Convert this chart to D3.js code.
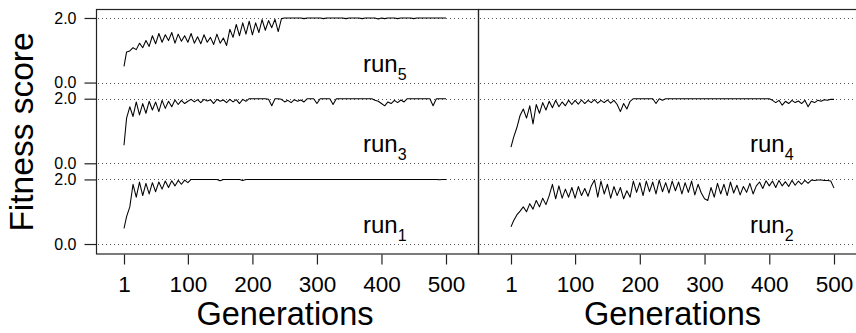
<!DOCTYPE html>
<html><head><meta charset="utf-8">
<script src="https://cdn.jsdelivr.net/npm/d3@7"></script>
<style>
body{margin:0;background:#fff}
svg{display:block}
text{font-family:"Liberation Sans",Arial,Helvetica,sans-serif;fill:#000}
</style>
</head><body><svg id="c" width="856" height="333"></svg>
<script>
// Generations sampled (1, then every 5th)
const gens = [1].concat(d3.range(5, 501, 5));
const xTicks = [1, 100, 200, 300, 400, 500];
const yTicks = [0, 2];
const runNames = ["5", "3", "1", "4", "2"];

const run5 = [
 0.50,0.95,0.98,1.08,1.02,1.22,1.08,1.30,1.12,1.45,
 1.20,1.52,1.25,1.48,1.30,1.55,1.22,1.50,1.28,1.45,
 1.25,1.52,1.22,1.42,1.20,1.48,1.25,1.40,1.18,1.50,
 1.22,1.38,1.15,1.65,1.40,1.80,1.45,1.85,1.50,1.90,
 1.48,1.85,1.55,1.95,1.62,1.92,1.70,1.96,1.58,1.98,
 2.00,2.00,2.00,2.00,2.00,2.00,1.98,2.00,2.00,2.00,
 2.00,2.00,1.98,2.00,2.00,2.00,2.00,2.00,2.00,1.98,
 2.00,2.00,2.00,2.00,1.98,2.00,2.00,2.00,2.00,1.97,
 2.00,1.98,2.00,2.00,2.00,1.98,2.00,2.00,2.00,2.00,
 1.98,2.00,2.00,2.00,2.00,2.00,2.00,2.00,2.00,2.00,
 2.00];
const run3 = [
 0.56,1.40,1.75,1.45,1.90,1.50,1.85,1.55,1.92,1.65,
 1.90,1.60,1.95,1.70,1.92,1.75,1.96,1.82,1.95,1.85,
 1.92,1.98,1.90,1.97,1.88,1.98,1.93,1.97,1.85,1.98,
 1.92,1.96,1.88,1.98,1.90,1.97,1.85,1.98,1.92,2.00,
 2.00,2.00,2.00,2.00,2.00,1.98,1.78,2.00,2.00,1.98,
 1.90,1.95,1.88,1.97,1.92,1.96,1.90,2.00,2.00,2.00,
 1.85,2.00,2.00,2.00,2.00,1.82,2.00,2.00,2.00,2.00,
 2.00,2.00,2.00,2.00,2.00,2.00,2.00,2.00,1.95,1.92,
 1.85,1.78,1.90,1.85,1.95,1.88,1.96,1.90,2.00,2.00,
 2.00,2.00,2.00,2.00,2.00,2.00,1.78,2.00,2.00,2.00,
 2.00];
const run1 = [
 0.48,0.85,1.15,1.85,1.45,1.92,1.50,1.88,1.55,1.90,
 1.62,1.92,1.70,1.95,1.75,1.96,1.80,1.97,1.85,1.98,
 1.90,2.00,2.00,2.00,2.00,2.00,2.00,2.00,2.00,2.00,
 1.96,2.00,2.00,2.00,2.00,2.00,2.00,1.97,2.00,2.00,
 2.00,2.00,2.00,2.00,2.00,2.00,2.00,2.00,2.00,2.00,
 2.00,2.00,2.00,2.00,2.00,2.00,2.00,2.00,2.00,2.00,
 2.00,2.00,2.00,2.00,2.00,2.00,2.00,2.00,2.00,2.00,
 2.00,2.00,2.00,2.00,2.00,2.00,2.00,2.00,2.00,2.00,
 2.00,2.00,2.00,2.00,2.00,2.00,2.00,2.00,2.00,2.00,
 2.00,2.00,2.00,2.00,2.00,2.00,2.00,2.00,1.99,2.00,
 2.00];
const run4 = [
 0.50,0.80,1.10,1.48,1.68,1.40,1.78,1.22,1.82,1.55,
 1.88,1.65,1.92,1.72,1.95,1.75,1.90,1.78,1.95,1.82,
 1.95,1.83,1.96,1.85,1.95,1.88,1.97,1.86,1.95,1.88,
 1.96,1.86,1.95,1.82,1.60,1.85,1.68,1.92,2.00,2.00,
 2.00,2.00,2.00,2.00,2.00,1.85,2.00,1.95,2.00,2.00,
 2.00,2.00,2.00,2.00,2.00,2.00,2.00,2.00,2.00,2.00,
 2.00,2.00,2.00,2.00,2.00,2.00,2.00,2.00,2.00,2.00,
 2.00,2.00,2.00,2.00,2.00,2.00,2.00,2.00,2.00,2.00,
 2.00,1.95,1.88,1.95,1.80,1.92,1.85,1.95,1.88,1.93,
 1.85,1.95,1.75,1.92,1.88,1.95,1.92,1.97,1.95,1.98,
 1.98];
const run2 = [
 0.53,0.72,0.90,1.02,1.15,1.00,1.25,1.08,1.35,1.15,
 1.42,1.22,1.50,1.85,1.40,1.80,1.42,1.70,1.45,1.75,
 1.42,1.78,1.50,1.72,1.48,1.80,1.98,1.45,1.95,1.55,
 1.85,1.42,1.78,1.50,1.75,1.40,1.65,1.45,1.95,1.60,
 1.90,1.50,1.95,1.62,1.92,1.55,1.98,1.62,1.90,1.58,
 1.95,1.65,1.92,1.55,1.90,1.60,1.95,1.52,1.85,1.58,
 1.40,1.35,1.75,1.45,1.88,1.55,1.85,1.50,1.92,1.58,
 1.82,1.52,1.78,1.60,1.88,1.55,1.80,1.92,1.72,1.96,
 1.80,1.95,1.75,1.97,1.80,1.93,1.78,1.97,1.82,1.95,
 1.85,1.97,1.88,1.98,1.97,1.98,1.98,1.97,1.97,1.95,
 1.73];

// ---- layout ----
const svg = d3.select("#c");
const panels = [
  {x0: 96, x1: 478, r0: 124, r1: 446},
  {x0: 478, x1: 858, r0: 511, r1: 834}
];
const yTop = 9, yBottom = 253.5;
const yAll = d3.scaleLinear().domain([-0.3, 7.3]).range([253.7, 8.3]);
const rowOff = [5, 2.5, 0];
const rowScale = rowOff.map(o => d3.scaleLinear().domain([0, 2]).range([yAll(o), yAll(o + 2)]));
const xScales = panels.map(p => d3.scaleLinear().domain([1, 500]).range([p.r0, p.r1]));

const series = [
  {vals: run5, panel: 0, row: 0, name: runNames[0]},
  {vals: run3, panel: 0, row: 1, name: runNames[1]},
  {vals: run1, panel: 0, row: 2, name: runNames[2]},
  {vals: run4, panel: 1, row: 1, name: runNames[3]},
  {vals: run2, panel: 1, row: 2, name: runNames[4]}
];

// dotted reference lines
panels.forEach(p => {
  rowScale.forEach(rs => {
    yTicks.forEach(v => {
      svg.append("line")
        .attr("x1", p.x0 + 2).attr("x2", p.x1)
        .attr("y1", Math.round(rs(v)) + 0.5).attr("y2", Math.round(rs(v)) + 0.5)
        .attr("stroke", "#555").attr("stroke-width", 1)
        .attr("stroke-dasharray", "1,3");
    });
  });
});

// lines
series.forEach(s => {
  const xs = xScales[s.panel], ys = rowScale[s.row];
  const line = d3.line().x((d, i) => xs(gens[i])).y(d => ys(d));
  svg.append("path").datum(s.vals)
    .attr("d", line).attr("fill", "none")
    .attr("stroke", "#000").attr("stroke-width", 1.05)
    .attr("stroke-linejoin", "round");
  const lbl = svg.append("text")
    .attr("x", s.panel === 0 ? 363 : 750)
    .attr("y", ys(0) - 11)
    .attr("font-size", 24);
  lbl.append("tspan").text("run");
  lbl.append("tspan").attr("font-size", 16).attr("dy", 8).text(s.name);
});

// panel borders
panels.forEach(p => {
  svg.append("rect")
    .attr("x", p.x0 + 0.5).attr("y", yTop + 0.5)
    .attr("width", p.x1 - p.x0).attr("height", yBottom - yTop)
    .attr("fill", "none").attr("stroke", "#222").attr("stroke-width", 1.2);
});

// x axes
panels.forEach((p, i) => {
  const g = svg.append("g")
    .attr("transform", `translate(0,${yBottom + 1})`)
    .call(d3.axisBottom(xScales[i]).tickValues(xTicks).tickSize(10).tickPadding(12).tickFormat(d3.format("d")));
  g.select(".domain").remove();
  g.selectAll(".tick line").attr("stroke", "#222").attr("stroke-width", 1.2);
  g.selectAll(".tick text").attr("font-size", 22.5).attr("font-family", '"Liberation Sans",Arial,sans-serif').attr("fill", "#000");
  svg.append("text")
    .attr("x", (p.r0 + p.r1) / 2).attr("y", 325)
    .attr("text-anchor", "middle").attr("font-size", 32.5)
    .text("Generations");
});

// y axes
rowScale.forEach(rs => {
  const g = svg.append("g")
    .attr("transform", `translate(${panels[0].x0 + 0.5},0)`)
    .call(d3.axisLeft(rs).tickValues(yTicks).tickSize(12).tickPadding(8).tickFormat(d3.format(".1f")));
  g.select(".domain").remove();
  g.selectAll(".tick line").attr("stroke", "#222").attr("stroke-width", 1.2);
  g.selectAll(".tick text").attr("font-size", 16).attr("font-family", '"Liberation Sans",Arial,sans-serif').attr("fill", "#000");
});

svg.append("text")
  .attr("transform", "translate(33,132) rotate(-90)")
  .attr("text-anchor", "middle").attr("font-size", 33.5)
  .text("Fitness score");
</script>
</body></html>
